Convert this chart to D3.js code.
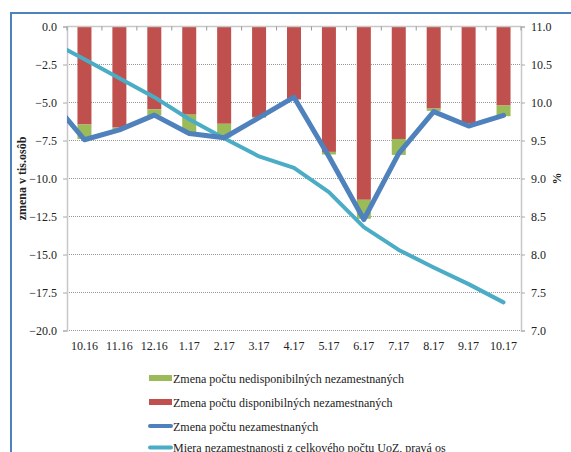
<!DOCTYPE html>
<html>
<head>
<meta charset="utf-8">
<script src="https://cdnjs.cloudflare.com/ajax/libs/d3/7.8.5/d3.min.js"></script>
<style>
  html, body { margin: 0; padding: 0; background: #fff; }
  svg { display: block; }
  text { font-family: "Liberation Serif", "Times New Roman", serif; fill: #222; }
</style>
</head>
<body>
<svg id="chart" width="571" height="452"></svg>
<script>
// ---- data ----
const categories = ["10.16","11.16","12.16","1.17","2.17","3.17","4.17","5.17","6.17","7.17","8.17","9.17","10.17"];
// preceding month (outside the shown range, line is clipped at the plot edge)
const prevCategory = "9.16";
const disponibilni =    [-6.45, -6.65, -5.45, -5.80, -6.40, -5.95, -4.80, -8.25, -11.40, -7.40, -5.40, -6.35, -5.20];
const nedisponibilni =  [-0.95, -0.12, -0.40, -1.15, -0.90, -0.05,  0.00, -0.17,  -1.25, -1.05, -0.15, -0.05, -0.70];
const nezamestnani =    [-7.45, -6.80, -5.83, -7.04, -7.32, -6.00, -4.65, -8.55, -12.70, -8.35, -5.60, -6.55, -5.85];
const nezamestnaniPrev = -4.70;
const miera =           [10.57, 10.32, 10.07, 9.78, 9.53, 9.29, 9.14, 8.82, 8.36, 8.06, 7.83, 7.61, 7.37];
const mieraPrev = 10.81;
const leftTicks = [0, -2.5, -5, -7.5, -10, -12.5, -15, -17.5, -20];
const rightTicks = [11, 10.5, 10, 9.5, 9, 8.5, 8, 7.5, 7];
const legendLabels = [
  "Zmena počtu nedisponibilných nezamestnaných",
  "Zmena počtu disponibilných nezamestnaných",
  "Zmena počtu nezamestnaných",
  "Miera nezamestnanosti z celkového počtu UoZ, pravá os"
];
const colors = { green: "#9BBB59", red: "#C0504D", blue: "#4F81BD", cyan: "#4BACC6" };

// ---- layout ----
const svg = d3.select("#chart");
const L = 67, R = 521, T = 26.5, B = 330.5;

// frame
svg.append("rect").attr("x", 11).attr("y", 13).attr("width", 620).attr("height", 500)
  .attr("fill", "none").attr("stroke", colors.blue).attr("stroke-width", 2);

const x = d3.scaleBand().domain(categories).range([L, R]).paddingInner(0).paddingOuter(0);
const step = x.step();
const cx = c => x(c) + step / 2;
const y = d3.scaleLinear().domain([-20, 0]).range([B, T]);
const y2 = d3.scaleLinear().domain([7, 11]).range([B, T]);

// gridlines
svg.append("g").selectAll("line").data(leftTicks.filter(d => d !== 0)).join("line")
  .attr("x1", L).attr("x2", R).attr("y1", d => y(d)).attr("y2", d => y(d))
  .attr("stroke", "#9a9a9a").attr("stroke-width", 1).attr("stroke-dasharray", "1,1");

// left axis
const gL = svg.append("g").attr("transform", `translate(${L},0)`)
  .call(d3.axisLeft(y).tickValues(leftTicks).tickFormat(d3.format(".1f")).tickSize(4).tickPadding(6));
gL.select(".domain").attr("stroke", "#c8c8c8").attr("stroke-width", 1.5);
gL.selectAll(".tick line").attr("stroke", "#aaa");
gL.selectAll("text").style("font-size", "12px").style("font-family", "Liberation Serif").attr("fill", "#222");

// right axis
const gR = svg.append("g").attr("transform", `translate(${R},0)`)
  .call(d3.axisRight(y2).tickValues(rightTicks).tickFormat(d3.format(".1f")).tickSize(4).tickPadding(6));
gR.select(".domain").attr("stroke", "#c8c8c8").attr("stroke-width", 1.5);
gR.selectAll(".tick line").attr("stroke", "#aaa");
gR.selectAll("text").style("font-size", "12px").style("font-family", "Liberation Serif").attr("fill", "#222");

// category labels at bottom
svg.append("g").selectAll("text").data(categories).join("text")
  .attr("x", d => cx(d)).attr("y", 350).attr("text-anchor", "middle")
  .style("font-size", "12px").text(d => d);

// stacked bars
const barW = 14;
const bars = svg.append("g");
bars.selectAll("rect.red").data(categories).join("rect").attr("class", "red")
  .attr("x", d => cx(d) - barW / 2).attr("width", barW)
  .attr("y", y(0)).attr("height", (d, i) => y(disponibilni[i]) - y(0))
  .attr("fill", colors.red);
bars.selectAll("rect.green").data(categories).join("rect").attr("class", "green")
  .attr("x", d => cx(d) - barW / 2).attr("width", barW)
  .attr("y", (d, i) => y(disponibilni[i]))
  .attr("height", (d, i) => y(disponibilni[i] + nedisponibilni[i]) - y(disponibilni[i]))
  .attr("fill", colors.green);

// x axis at zero (top) with tick marks between categories
const gX = svg.append("g").attr("transform", `translate(0,${y(0)})`);
gX.append("line").attr("x1", L).attr("x2", R).attr("stroke", "#c8c8c8").attr("stroke-width", 1.5);
gX.selectAll("line.tk").data(d3.range(categories.length + 1)).join("line").attr("class", "tk")
  .attr("x1", i => L + i * step).attr("x2", i => L + i * step).attr("y1", 0).attr("y2", 4)
  .attr("stroke", "#999");

// lines (clipped to plot area)
svg.append("clipPath").attr("id", "plotclip").append("rect")
  .attr("x", L).attr("y", T - 5).attr("width", R - L + 5).attr("height", B - T + 10);
const allCats = [prevCategory].concat(categories);
const xPos = c => c === prevCategory ? cx(categories[0]) - step : cx(c);

const blueData = allCats.map((c, i) => [xPos(c), y(i === 0 ? nezamestnaniPrev : nezamestnani[i - 1])]);
const cyanData = allCats.map((c, i) => [xPos(c), y2(i === 0 ? mieraPrev : miera[i - 1])]);
const lineGen = d3.line();
const lines = svg.append("g").attr("clip-path", "url(#plotclip)");
lines.append("path").attr("d", lineGen(cyanData)).attr("fill", "none")
  .attr("stroke", colors.cyan).attr("stroke-width", 4).attr("stroke-linejoin", "round").attr("stroke-linecap", "round");
lines.append("path").attr("d", lineGen(blueData)).attr("fill", "none")
  .attr("stroke", colors.blue).attr("stroke-width", 5).attr("stroke-linejoin", "round").attr("stroke-linecap", "round");

// axis titles
svg.append("text").attr("transform", `translate(26,${(T + B) / 2}) rotate(-90)`)
  .attr("text-anchor", "middle").style("font-size", "12px").style("font-weight", "bold")
  .text("zmena v tis.osôb");
svg.append("text").attr("transform", `translate(561,${(T + B) / 2}) rotate(-90)`)
  .attr("text-anchor", "middle").style("font-size", "12px").style("font-weight", "bold")
  .text("%");

// legend
const legY = [378, 402, 426, 447.5];
const leg = svg.append("g");
legendLabels.forEach((lab, i) => {
  const g = leg.append("g").attr("transform", `translate(0,${legY[i]})`);
  if (i < 2) {
    g.append("rect").attr("x", 149).attr("y", -3).attr("width", 23).attr("height", 6)
      .attr("fill", i === 0 ? colors.green : colors.red);
  } else {
    g.append("line").attr("x1", 150).attr("x2", 171).attr("y1", 0).attr("y2", 0)
      .attr("stroke", i === 2 ? colors.blue : colors.cyan).attr("stroke-width", 4).attr("stroke-linecap", "round");
  }
  g.append("text").attr("x", 173).attr("y", 4.5).style("font-size", "12px").text(lab);
});
</script>
</body>
</html>
